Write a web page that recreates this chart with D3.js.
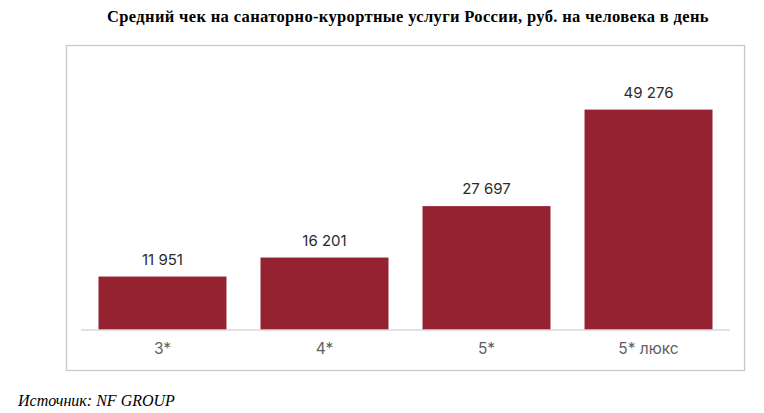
<!DOCTYPE html>
<html>
<head>
<meta charset="utf-8">
<script src="https://cdn.jsdelivr.net/npm/d3@7"></script>
<style>
  body { margin: 0; background: #fff; }
  svg { display: block; }
</style>
</head>
<body>
<div id="chart"></div>
<script>
// data
const categories = ["3*", "4*", "5*", "5* люкс"];
const values = [11951, 16201, 27697, 49276];
const titleText = "Средний чек на санаторно-курортные услуги России, руб. на человека в день";
const sourceText = "Источник: NF GROUP";

const W = 764, H = 413;

const svg = d3.select("#chart").append("svg")
  .attr("width", W)
  .attr("height", H);

// title
svg.append("text")
  .attr("x", 408)
  .attr("y", 22)
  .attr("text-anchor", "middle")
  .attr("font-family", "'Liberation Serif', 'Times New Roman', serif")
  .attr("font-weight", "bold")
  .attr("font-size", 16.5)
  .attr("letter-spacing", 0.35)
  .attr("fill", "#000")
  .text(titleText);

// frame around the chart
svg.append("rect")
  .attr("x", 66.5)
  .attr("y", 45.5)
  .attr("width", 678)
  .attr("height", 325)
  .attr("fill", "none")
  .attr("stroke", "#c8c8c8")
  .attr("stroke-width", 1.3);

// scales
const x = d3.scaleBand()
  .domain(categories)
  .range([81, 730])
  .paddingInner(0.21)
  .paddingOuter(0.108);

const y = d3.scaleLinear()
  .domain([0, 55000])
  .range([330, 84]);

// bars
svg.selectAll("rect.bar")
  .data(values)
  .enter()
  .append("rect")
  .attr("class", "bar")
  .attr("x", (d, i) => x(categories[i]))
  .attr("y", d => y(d))
  .attr("width", x.bandwidth())
  .attr("height", d => y(0) - y(d))
  .attr("fill", "#952230");

// value labels
const fmt = d => d3.format(",")(d).replace(",", " ");
svg.selectAll("text.val")
  .data(values)
  .enter()
  .append("text")
  .attr("class", "val")
  .attr("x", (d, i) => x(categories[i]) + x.bandwidth() / 2)
  .attr("y", d => y(d) - 12)
  .attr("text-anchor", "middle")
  .attr("font-family", "Inter, 'Open Sans', sans-serif")
  .attr("font-size", 15)
  .attr("fill", "#2b2b2b")
  .text(fmt);

// x axis
const xAxis = svg.append("g")
  .attr("transform", "translate(0,330)")
  .call(d3.axisBottom(x).tickSize(0).tickPadding(13));

xAxis.select(".domain")
  .attr("d", "M81,0H730")
  .attr("stroke", "#d9d9d9")
  .attr("stroke-width", 1.5);

xAxis.selectAll("text")
  .attr("font-family", "Inter, 'Open Sans', sans-serif")
  .attr("font-size", 15.5)
  .attr("fill", "#5f5f5f");

// source
svg.append("text")
  .attr("x", 18)
  .attr("y", 406)
  .attr("font-family", "'Liberation Serif', 'Times New Roman', serif")
  .attr("font-style", "italic")
  .attr("font-size", 16)
  .attr("fill", "#000")
  .text(sourceText);
</script>
</body>
</html>
